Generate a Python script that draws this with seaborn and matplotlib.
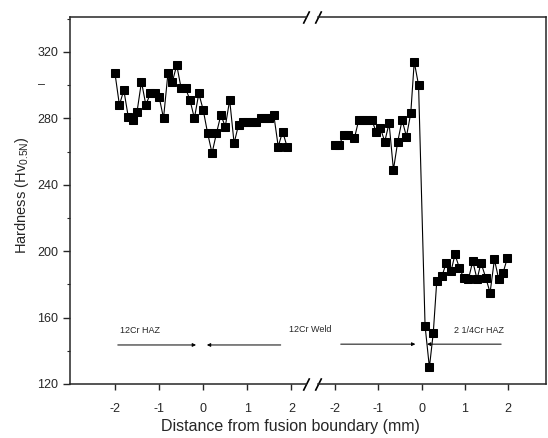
import numpy as np
import pandas as pd
import matplotlib
matplotlib.use('Agg')
import matplotlib.pyplot as plt
import seaborn as sns

# datos (HV vs distancia a la linea de fusion)
x_izq = [-2.0, -1.9, -1.8, -1.7, -1.6, -1.5, -1.4, -1.3, -1.2, -1.1,
         -1.0, -0.9, -0.8, -0.7, -0.6, -0.5, -0.4, -0.3, -0.2, -0.1,
         0.0, 0.1, 0.2, 0.3, 0.4, 0.5, 0.6, 0.7, 0.8, 0.9,
         1.0, 1.1, 1.2, 1.3, 1.4, 1.5, 1.6, 1.7, 1.8, 1.9]
hv_izq = [307, 288, 297, 281, 279, 284, 302, 288, 295, 295,
          293, 280, 307, 302, 312, 298, 298, 291, 280, 295,
          285, 271, 259, 271, 282, 275, 291, 265, 276, 278,
          278, 278, 278, 280, 280, 280, 282, 263, 272, 263]

x_der = [-2.0, -1.9, -1.8, -1.7, -1.55, -1.45, -1.35, -1.25, -1.15, -1.05,
         -0.95, -0.85, -0.75, -0.65, -0.55, -0.45, -0.35, -0.25, -0.17, -0.07,
         0.08, 0.18, 0.27, 0.35, 0.47, 0.57, 0.68, 0.77, 0.87, 0.97,
         1.08, 1.18, 1.28, 1.37, 1.48, 1.58, 1.68, 1.78, 1.88, 1.98]
hv_der = [264, 264, 270, 270, 268, 279, 279, 279, 279, 272,
          274, 266, 277, 249, 266, 279, 269, 283, 314, 300,
          155, 130, 151, 182, 185, 193, 188, 198, 190, 184,
          183, 194, 183, 193, 184, 175, 195, 183, 187, 196]

ticks_x = [-2, -1, 0, 1, 2]
ticks_y = [120, 160, 200, 240, 280, 320]

sns.set_style('ticks')
plt.rcParams['font.family'] = ['Liberation Sans', 'DejaVu Sans']
plt.rcParams['mathtext.fontset'] = 'custom'
plt.rcParams['mathtext.rm'] = 'Liberation Sans'
plt.rcParams['mathtext.it'] = 'Liberation Sans'

fig = plt.figure(figsize=(5.48, 4.38), dpi=100)
ax1 = fig.add_axes([70 / 548, 54 / 438, 236 / 548, 367 / 438])
ax2 = fig.add_axes([318 / 548, 54 / 438, 228 / 548, 367 / 438], sharey=ax1)

df1 = pd.DataFrame({'x': x_izq, 'hv': hv_izq})
df2 = pd.DataFrame({'x': x_der, 'hv': hv_der})
estilo = dict(color='black', marker='s', markersize=5.5, linewidth=0.8,
              markeredgecolor='black', sort=False, estimator=None)
sns.lineplot(data=df1, x='x', y='hv', ax=ax1, **estilo)
sns.lineplot(data=df2, x='x', y='hv', ax=ax2, **estilo)

ax1.set_xlim(-3.02, 2.33)
ax2.set_xlim(-2.39, 2.87)
ax1.set_ylim(120, 341)

for ax in (ax1, ax2):
    ax.set_xticks(ticks_x)
    ax.set_xticklabels([str(t) for t in ticks_x], fontsize=9)
    ax.set_xlabel('')
    ax.set_ylabel('')
    ax.tick_params(axis='x', direction='out', length=4, width=1, pad=10)
    for s in ax.spines.values():
        s.set_linewidth(1.1)

ax1.set_yticks(ticks_y)
ax1.set_yticklabels([str(t) for t in ticks_y], fontsize=9)
ax1.set_yticks([140, 180, 220, 260, 300, 340], minor=True)
ax1.tick_params(axis='y', which='major', direction='out', length=5, width=1)
ax1.tick_params(axis='y', which='minor', direction='out', length=2.5, width=0.8)
ax1.text(-0.12, 300, '\u2013', transform=ax1.get_yaxis_transform(),
         fontsize=9, ha='center', va='center')

ax1.spines['right'].set_visible(False)
ax2.spines['left'].set_visible(False)
ax2.tick_params(axis='y', which='both', left=False, labelleft=False)

# marcas de corte "//"
corte = dict(marker=[(-0.5, -1), (0.5, 1)], markersize=9, linestyle='none',
             color='k', mec='k', mew=1.2, clip_on=False)
ax1.plot([1, 1], [0, 1], transform=ax1.transAxes, **corte)
ax2.plot([0, 0], [0, 1], transform=ax2.transAxes, **corte)

# zonas y flechas
flecha = dict(arrowstyle='-|>', color='black', lw=0.7, mutation_scale=5)
ax1.annotate('', xy=(-0.1, 143.5), xytext=(-2.0, 143.5), arrowprops=flecha)
ax1.annotate('', xy=(0.02, 143.5), xytext=(1.82, 143.5), arrowprops=flecha)
ax2.annotate('', xy=(-0.08, 144), xytext=(-1.93, 144), arrowprops=flecha)
ax2.annotate('', xy=(0.06, 144), xytext=(1.9, 144), arrowprops=flecha)
ax1.text(-1.44, 152.5, '12Cr HAZ', fontsize=6.5, ha='center', va='center')
ax2.text(1.33, 152.5, '2 1/4Cr HAZ', fontsize=6.5, ha='center', va='center')
fig.text(310 / 548, 108 / 438, '12Cr Weld', fontsize=6.5, ha='center', va='center')

fig.text(290 / 548, 12 / 438, 'Distance from fusion boundary (mm)',
         fontsize=11.5, ha='center', va='center')
fig.text(22 / 548, 243 / 438, 'Hardness (Hv$_{0.5N}$)', fontsize=10.5,
         rotation=90, ha='center', va='center')

fig.savefig('out.png', dpi=100)
